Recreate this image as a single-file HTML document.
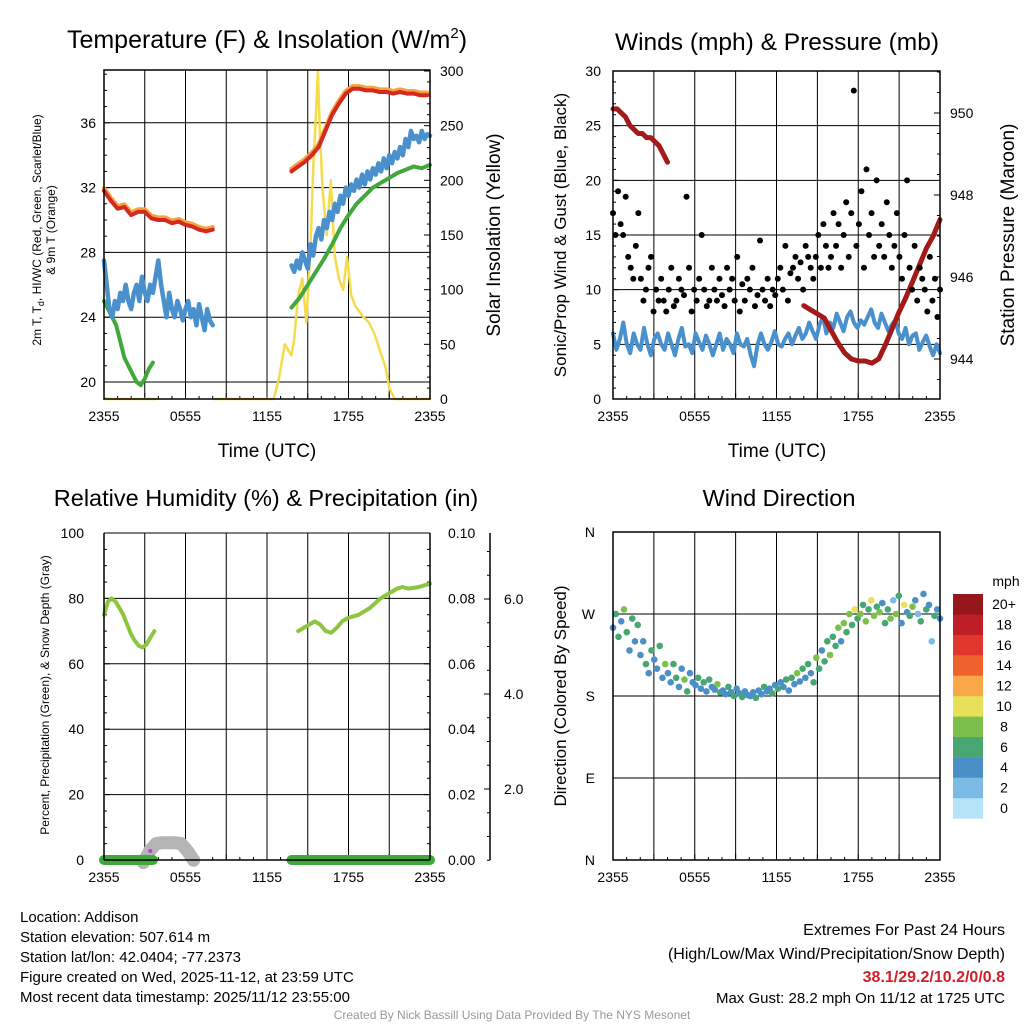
<!DOCTYPE html>
<html><head><meta charset="utf-8"><style>
html,body{margin:0;padding:0;background:#fff;}
svg{display:block;font-family:"Liberation Sans",Arial,sans-serif;}
</style></head><body>
<svg id="s" width="1024" height="1024" viewBox="0 0 1024 1024"></svg>
<script>
// ---------- DATA ----------
const timeTicks = ["2355","0555","1155","1755","2355"];
// Panel 1
const tempTicks = [20,24,28,32,36];
const solarTicks = [0,50,100,150,200,250,300];
const tempBlue1 = [27.5,26,24.5,24,25,24.5,25.5,25,26,25,24.5,25.5,26,25,26.5,25.5,25,26,25.5,26.5,27.5,26,25,24,25.5,24.5,24,25,24.5,23.8,24.5,25,24,24.5,23.5,24.8,24,23.2,24.5,23.8,23.5];
const tempBlue2 = [27.2,26.8,27.5,27,28,27.5,27,28.5,27.8,29,29.5,28.8,30,29.5,30.5,30,31,30.5,31.5,31,32,31.5,32.2,31.8,32.5,32,32.8,32.2,33,32.5,33.2,32.8,33.5,33,33.8,33.2,34,33.5,34.2,33.8,34.5,34,35,34.5,35.5,35,35.2,34.8,35.5,35,35.3,35.2];
const tempRed1 = [31.8,31.2,30.7,30.8,30.3,30.5,30.5,30.1,30.0,30.0,29.8,29.9,29.7,29.6,29.4,29.3,29.4];
const tempRed2 = [33.0,33.3,33.6,34.0,34.5,35.5,36.5,37.2,37.8,38.1,38.1,38.0,38.0,37.9,37.9,37.8,37.9,37.8,37.8,37.7,37.7];
const dewGreen1 = [25,24.5,24,23.5,22.5,21.5,21,20.5,20,19.8,20.2,20.8,21.2];
const dewGreen2 = [24.6,25.2,26,26.8,27.6,28.5,29.5,30.3,31,31.5,32,32.3,32.6,32.9,33.1,33.3,33.2,33.4];
const solarTimes = [0,3.8,null,8.1,12.5,12.9,13.3,13.8,14.0,14.3,14.6,14.9,15.2,15.4,15.6,15.75,15.9,16.1,16.4,16.7,17.0,17.3,17.6,17.9,18.2,18.5,18.8,19.1,19.5,19.9,20.3,20.7,21.0,21.4,24];
const solarVals = [0,0,null,0,0,20,50,40,55,95,110,70,140,210,260,300,240,190,150,200,130,110,100,130,95,85,80,75,70,60,45,30,10,0,0];
// Panel 2
const windTicks = [0,5,10,15,20,25,30];
const presTicks = [944,946,948,950];
const windSpeed = [6,4.5,5.5,7,5,4.2,6,5,4.5,6.5,5,4,5.5,6,5,4.5,6,5,4,5.5,6.5,4.8,5,4.2,6,5.2,4.5,5.8,5,4,5,6,4.5,5.5,5,4.2,6,5,4.8,5.5,4,3,5,6,5,4.5,5.2,6.2,5,4.8,5.5,6,5,5.8,6.5,5.5,6,7,6.2,5.5,6.8,7.5,6,7,6.5,7.8,7,6.2,7.5,8,7,6.5,7.2,6.8,7.5,8.2,7,6.5,7.8,7,6.2,6.8,7.2,6,5.5,6.5,5,5.8,6,4.5,5.2,5.8,4.8,4,5,4.2];
const gusts = [17,15,19,16,15,18.5,13,12,11,14,17,11,9,10,12,13,8,10,9,11,
 9,8,10,12,8.5,9,11,10,9.5,18.5,12,8,10,9,11,15,10,8.5,9,12,
 10,9,11,9.5,8.5,12,10,11,9,13,8,10.5,9,11,10,12,8.5,9.5,14.5,10,
 9,11,8.5,10,9.5,11,12,10,14,9,11.5,12,13,11,12.5,10,14,13,12,11,
 13,15,12,16,14,12,13,17,14,16,12,15,18,13,17,28.2,14,16,19,12,
 21,15,17,13,20,14,16,13,18,15,12,14,17,13,11,15,20,12,10,14,
 9,12,11,10,8,13,9,11,7.5,10];
const pressure1 = [950.1,950.1,950.0,949.9,949.7,949.6,949.5,949.5,949.4,949.4,949.3,949.2,949.0,948.8];
const pressure2 = [945.3,945.2,945.1,945.0,944.7,944.4,944.15,944.0,943.95,943.95,943.9,944.0,944.35,944.75,945.15,945.5,945.9,946.3,946.7,947.0,947.4];
// Panel 3
const rhTicks = [0,20,40,60,80,100];
const precipTicks = ["0.00","0.02","0.04","0.06","0.08","0.10"];
const snowTicks = [2.0,4.0,6.0];
const rh1 = [75,79,80,79,77,75,72,69,67,65.5,65,66,68,70];
const rh2 = [70,71,72,73,72,70,69.5,71,73,74,74.5,75,76,77,78.5,80,81,82,83,83.5,83,83.2,83.5,84,84.5];
const precip1 = [0,0];
const precip2 = [0,0];
const snowDepth = [0.45,0.7,0.85,0.87,0.87,0.87,0.85,0.7,0.5];
// Panel 4
const dirLabels = ["N","E","S","W","N"];
const windDir = [255,270,245,262,275,250,230,265,240,258,225,240,215,205,230,220,210,235,200,215,
 205,195,215,200,190,210,198,185,205,195,192,200,188,195,185,198,190,187,193,184,
 186,182,190,184,180,188,183,179,185,181,180,184,178,186,182,190,185,188,183,192,
 188,195,190,198,186,200,193,205,196,210,200,215,205,195,222,210,230,218,240,225,
 245,235,255,240,260,250,270,258,275,265,270,280,262,275,285,268,278,272,282,260,
 275,265,285,270,290,260,280,272,268,278,285,270,262,292,275,280,240,268,275,265];
const dirSpeed = [5,6,7,5,8,6,4,7,5,6,5,4,6,5,7,4,5,6,4,8,
 5,4,7,6,5,4,8,6,5,4,5,6,4,7,5,6,4,5,8,6,
 5,4,6,5,7,4,5,6,4,5,4,5,6,4,5,7,4,5,6,5,
 6,4,5,7,5,6,4,8,5,6,5,6,4,7,8,6,5,7,6,8,
 7,6,8,5,9,7,8,6,10,7,8,6,9,7,10,8,6,9,4,7,
 6,9,3,8,7,5,10,4,6,8,5,2,6,4,7,5,3,6,4,5];
const cbLabels = ["0","2","4","6","8","10","12","14","16","18","20+"];
const cbColors = ["#b5e3f8","#7cbbe6","#4b8fc7","#48a673","#7cc04b","#e7e05a","#f8a846","#f0622c","#e0362b","#be1e26","#95171c"];

// ---------- helpers ----------
const S = document.getElementById('s');
const NS = 'http://www.w3.org/2000/svg';
function mk(tag, attrs, parent){const e=document.createElementNS(NS,tag);for(const k in attrs)e.setAttribute(k,attrs[k]);(parent||S).appendChild(e);return e;}
function txt(x,y,s,size,anchor,parent,extra){const e=mk('text',Object.assign({x:x,y:y,'font-size':size,'text-anchor':anchor||'middle',fill:'#000'},extra||{}),parent);e.textContent=s;return e;}
function seriesPath(vals,t0,t1,xs,ys){const n=vals.length;let d='';for(let i=0;i<n;i++){const t=n>1?t0+(t1-t0)*i/(n-1):t0;d+=(i?'L':'M')+xs(t).toFixed(1)+','+ys(vals[i]).toFixed(1);}return d;}
function pairPath(ts,vs,xs,ys){let d='',pen=false;for(let i=0;i<ts.length;i++){if(ts[i]===null){pen=false;continue;}d+=(pen?'L':'M')+xs(ts[i]).toFixed(1)+','+ys(vs[i]).toFixed(1);pen=true;}return d;}

function frame(g,L,R,T,B){
  for(let h=3;h<24;h+=3){const x=L+(R-L)*h/24;const l=mk('line',{x1:x,y1:T,x2:x,y2:B,stroke:'#000','stroke-width':1},g);}
  for(let h=1;h<24;h++){const x=L+(R-L)*h/24;mk('line',{x1:x,y1:B,x2:x,y2:B-(h%3?3:6),stroke:'#000','stroke-width':1},g);}
  timeTicks.forEach((s,i)=>{const x=L+(R-L)*i/4;const t=txt(x,B+22,s,14,'middle',g);});
}
function box(g,L,R,T,B){mk('rect',{x:L,y:T,width:R-L,height:B-T,fill:'none',stroke:'#000','stroke-width':1.5},g);}

// ---------- Panel 1 ----------
(function(){
  const g=mk('g',{});  
  const L=104,R=430,T=70,B=399;
  const xs=h=>L+(R-L)*h/24, ys=v=>382-(v-20)*16.2, ysol=v=>B-v*(B-T-1)/300;
  frame(g,L,R,T,B);
  tempTicks.forEach(v=>{mk('line',{x1:L,y1:ys(v),x2:R,y2:ys(v),stroke:'#000','stroke-width':1},g);const t=txt(L-8,ys(v)+5,String(v),14,'end',g);});
  for(let v=19;v<=39;v++){mk('line',{x1:L,y1:ys(v),x2:L+(v%4?3:6),y2:ys(v),stroke:'#000'},g);}
  for(let v=0;v<=300;v+=10){mk('line',{x1:R,y1:ysol(v),x2:R-(v%50?3:6),y2:ysol(v),stroke:'#000'},g);}
  solarTicks.forEach(v=>{const t=txt(R+10,ysol(v)+5,String(v),14,'start',g);});
  const st={fill:'none','stroke-linejoin':'round','stroke-linecap':'round'};
  let p;
  p=mk('path',Object.assign({d:pairPath(solarTimes,solarVals,xs,ysol),stroke:'#f5dc4a','stroke-width':2.5},st),g);
  p=mk('path',Object.assign({d:seriesPath(tempRed1.map(v=>v+0.15),0,8,xs,ys)+seriesPath(tempRed2.map(v=>v+0.15),13.8,23.8,xs,ys),stroke:'#f7a23c','stroke-width':4.5},st),g);
  p=mk('path',Object.assign({d:seriesPath(tempRed1,0,8,xs,ys)+seriesPath(tempRed2,13.8,23.8,xs,ys),stroke:'#d22a20','stroke-width':4},st),g);
  p=mk('path',Object.assign({d:seriesPath(dewGreen1,0,3.6,xs,ys)+seriesPath(dewGreen2,13.8,24,xs,ys),stroke:'#41a83c','stroke-width':4},st),g);
  p=mk('path',Object.assign({d:seriesPath(tempBlue1,0,8,xs,ys)+seriesPath(tempBlue2,13.8,24,xs,ys),stroke:'#4a90cc','stroke-width':4.5},st),g);
  box(g,L,R,T,B);
  let t=txt(267,48,'',25,'middle',g);
  t.innerHTML='Temperature (F) &amp; Insolation (W/m<tspan font-size="15" dy="-10">2</tspan><tspan dy="10">)</tspan>';
  t=txt(267,457,'Time (UTC)',19,'middle',g);
  t=mk('text',{x:0,y:0,'font-size':12,'text-anchor':'middle',transform:'translate(41,230) rotate(-90)'},g);
  t.innerHTML='2m T, T<tspan font-size="9" dy="3">d</tspan><tspan dy="-3">, HI/WC (Red, Green, Scarlet/Blue)</tspan>';
  t=mk('text',{x:0,y:0,'font-size':12,'text-anchor':'middle',transform:'translate(55,230) rotate(-90)'},g);t.textContent='& 9m T (Orange)';
  t=mk('text',{x:0,y:0,'font-size':19,'text-anchor':'middle',transform:'translate(500,235) rotate(-90)'},g);t.textContent='Solar Insolation (Yellow)';
})();

// ---------- Panel 2 ----------
(function(){
  const g=mk('g',{});  
  const L=613,R=940,T=71,B=399;
  const xs=h=>L+(R-L)*h/24, ys=v=>B-v*(B-T)/30, yp=v=>359-(v-944)*41;
  frame(g,L,R,T,B);
  windTicks.forEach(v=>{mk('line',{x1:L,y1:ys(v),x2:R,y2:ys(v),stroke:'#000'},g);const t=txt(L-12,ys(v)+5,String(v),14,'end',g);});
  for(let v=0;v<=30;v++){mk('line',{x1:L,y1:ys(v),x2:L+(v%5?3:6),y2:ys(v),stroke:'#000'},g);}
  for(let v=943.5;v<=951;v+=0.5){mk('line',{x1:R,y1:yp(v),x2:R-(v%2?3:6),y2:yp(v),stroke:'#000'},g);}
  presTicks.forEach(v=>{const t=txt(R+10,yp(v)+5,String(v),14,'start',g);});
  const st={fill:'none','stroke-linejoin':'round','stroke-linecap':'round'};
  let p=mk('path',Object.assign({d:seriesPath(windSpeed,0,24,xs,ys),stroke:'#4a90cc','stroke-width':4},st),g);
  p=mk('path',Object.assign({d:seriesPath(pressure1,0,4,xs,yp)+seriesPath(pressure2,14,24,xs,yp),stroke:'#a31a1a','stroke-width':5},st),g);
  gusts.forEach((v,i)=>{const c=mk('circle',{cx:xs(24*i/(gusts.length-1)),cy:ys(v),r:3,fill:'#000'},g);});
  box(g,L,R,T,B);
  let t=txt(777,50,'Winds (mph) & Pressure (mb)',24.5,'middle',g);
  t=txt(777,457,'Time (UTC)',19,'middle',g);
  t=mk('text',{x:0,y:0,'font-size':17,'text-anchor':'middle',transform:'translate(566,235) rotate(-90)'},g);t.textContent='Sonic/Prop Wind & Gust (Blue, Black)';
  t=mk('text',{x:0,y:0,'font-size':19,'text-anchor':'middle',transform:'translate(1014,235) rotate(-90)'},g);t.textContent='Station Pressure (Maroon)';
})();

// ---------- Panel 3 ----------
(function(){
  const g=mk('g',{});  
  const L=104,R=430,T=533,B=860;
  const xs=h=>L+(R-L)*h/24, ys=v=>B-v*(B-T)/100, ysn=v=>884-v*47.5;
  frame(g,L,R,T,B);
  rhTicks.forEach(v=>{mk('line',{x1:L,y1:ys(v),x2:R,y2:ys(v),stroke:'#000'},g);const t=txt(L-20,ys(v)+5,String(v),14,'end',g);});
  for(let v=0;v<=100;v+=5){mk('line',{x1:L,y1:ys(v),x2:L+(v%20?3:6),y2:ys(v),stroke:'#000'},g);mk('line',{x1:R,y1:ys(v),x2:R-(v%20?3:6),y2:ys(v),stroke:'#000'},g);}
  precipTicks.forEach((s,i)=>{const t=txt(R+18,ys(i*20)+5,s,14,'start',g);});
  mk('line',{x1:490,y1:T,x2:490,y2:B,stroke:'#000','stroke-width':1.5},g);
  for(let v=0.5;v<=7;v+=0.5){const y=ysn(v);if(y<T)break;mk('line',{x1:490,y1:y,x2:490-(v%2?3:6),y2:y,stroke:'#000'},g);}
  snowTicks.forEach(v=>{const t=txt(504,ysn(v)+5,v.toFixed(1),14,'start',g);});
  const st={fill:'none','stroke-linejoin':'round','stroke-linecap':'round'};
  let p=mk('path',Object.assign({d:seriesPath(snowDepth,2.9,6.6,xs,ysn),stroke:'#b4b4b4','stroke-width':13},st),g);
  p=mk('path',Object.assign({d:seriesPath(precip1,0,3.6,xs,ys)+seriesPath(precip2,13.8,24,xs,ys),stroke:'#3eaa3a','stroke-width':10,'stroke-linecap':'round'},st),g);
  p=mk('circle',{cx:xs(3.4),cy:851,r:2,fill:'#b040e0'},g);
  p=mk('path',Object.assign({d:seriesPath(rh1,0,3.7,xs,ys)+seriesPath(rh2,14.3,24,xs,ys),stroke:'#8cc63f','stroke-width':4},st),g);
  mk('line',{x1:L,y1:T,x2:L,y2:B,stroke:'#000','stroke-width':1.5},g);mk('line',{x1:R,y1:T,x2:R,y2:B,stroke:'#000','stroke-width':1.5},g);mk('line',{x1:L,y1:B,x2:R,y2:B,stroke:'#000','stroke-width':1.5},g);
  let t=txt(266,506,'Relative Humidity (%) & Precipitation (in)',23.5,'middle',g);
  t=mk('text',{x:0,y:0,'font-size':12,'text-anchor':'middle',transform:'translate(49,695) rotate(-90)'},g);t.textContent='Percent, Precipitation (Green), & Snow Depth (Gray)';
})();

// ---------- Panel 4 ----------
(function(){
  const g=mk('g',{});  
  const L=613,R=940,T=532,B=860;
  const xs=h=>L+(R-L)*h/24, ys=v=>B-v*(B-T)/360;
  frame(g,L,R,T,B);
  dirLabels.forEach((s,i)=>{const y=ys(i*90);mk('line',{x1:L,y1:y,x2:R,y2:y,stroke:'#000'},g);const t=txt(L-18,y+5,s,14,'end',g);});
  windDir.forEach((v,i)=>{const b=Math.min(10,Math.floor(dirSpeed[i]/2));const c=mk('circle',{cx:xs(24*i/(windDir.length-1)),cy:ys(v),r:3.3,fill:cbColors[b]},g);});
  box(g,L,R,T,B);
  cbColors.forEach((c,i)=>{const y=798-i*20.4;const r=mk('rect',{x:953,y:y,width:30,height:20.6,fill:c},g);const t=txt(1004,y+15,cbLabels[i],14,'middle',g);});
  let t=txt(1006,586,'mph',14,'middle',g);
  t=txt(779,506,'Wind Direction',23.5,'middle',g);
  t=mk('text',{x:0,y:0,'font-size':17,'text-anchor':'middle',transform:'translate(566,696) rotate(-90)'},g);t.textContent='Direction (Colored By Speed)';
})();

// ---------- Footer ----------
(function(){
  const g=mk('g',{});  
  const lines=["Location: Addison","Station elevation: 507.614 m","Station lat/lon: 42.0404; -77.2373","Figure created on Wed, 2025-11-12, at 23:59 UTC","Most recent data timestamp: 2025/11/12 23:55:00"];
  lines.forEach((s,i)=>{const t=txt(20,922+i*20,s,15,'start',g);});
  const g2=mk('g',{});  
  let t=txt(1005,935,'Extremes For Past 24 Hours',16,'end',g2);
  t=txt(1005,959,'(High/Low/Max Wind/Precipitation/Snow Depth)',16,'end',g2);
  t=txt(1005,982,'38.1/29.2/10.2/0/0.8',16,'end',g2,{fill:'#d0202a','font-weight':'bold'});
  t=txt(1005,1003,'Max Gust: 28.2 mph On 11/12 at 1725 UTC',15,'end',g2);
  t=txt(512,1019,'Created By Nick Bassill Using Data Provided By The NYS Mesonet',12,'middle',null,{fill:'#999'});
})();
</script>
</body></html>
